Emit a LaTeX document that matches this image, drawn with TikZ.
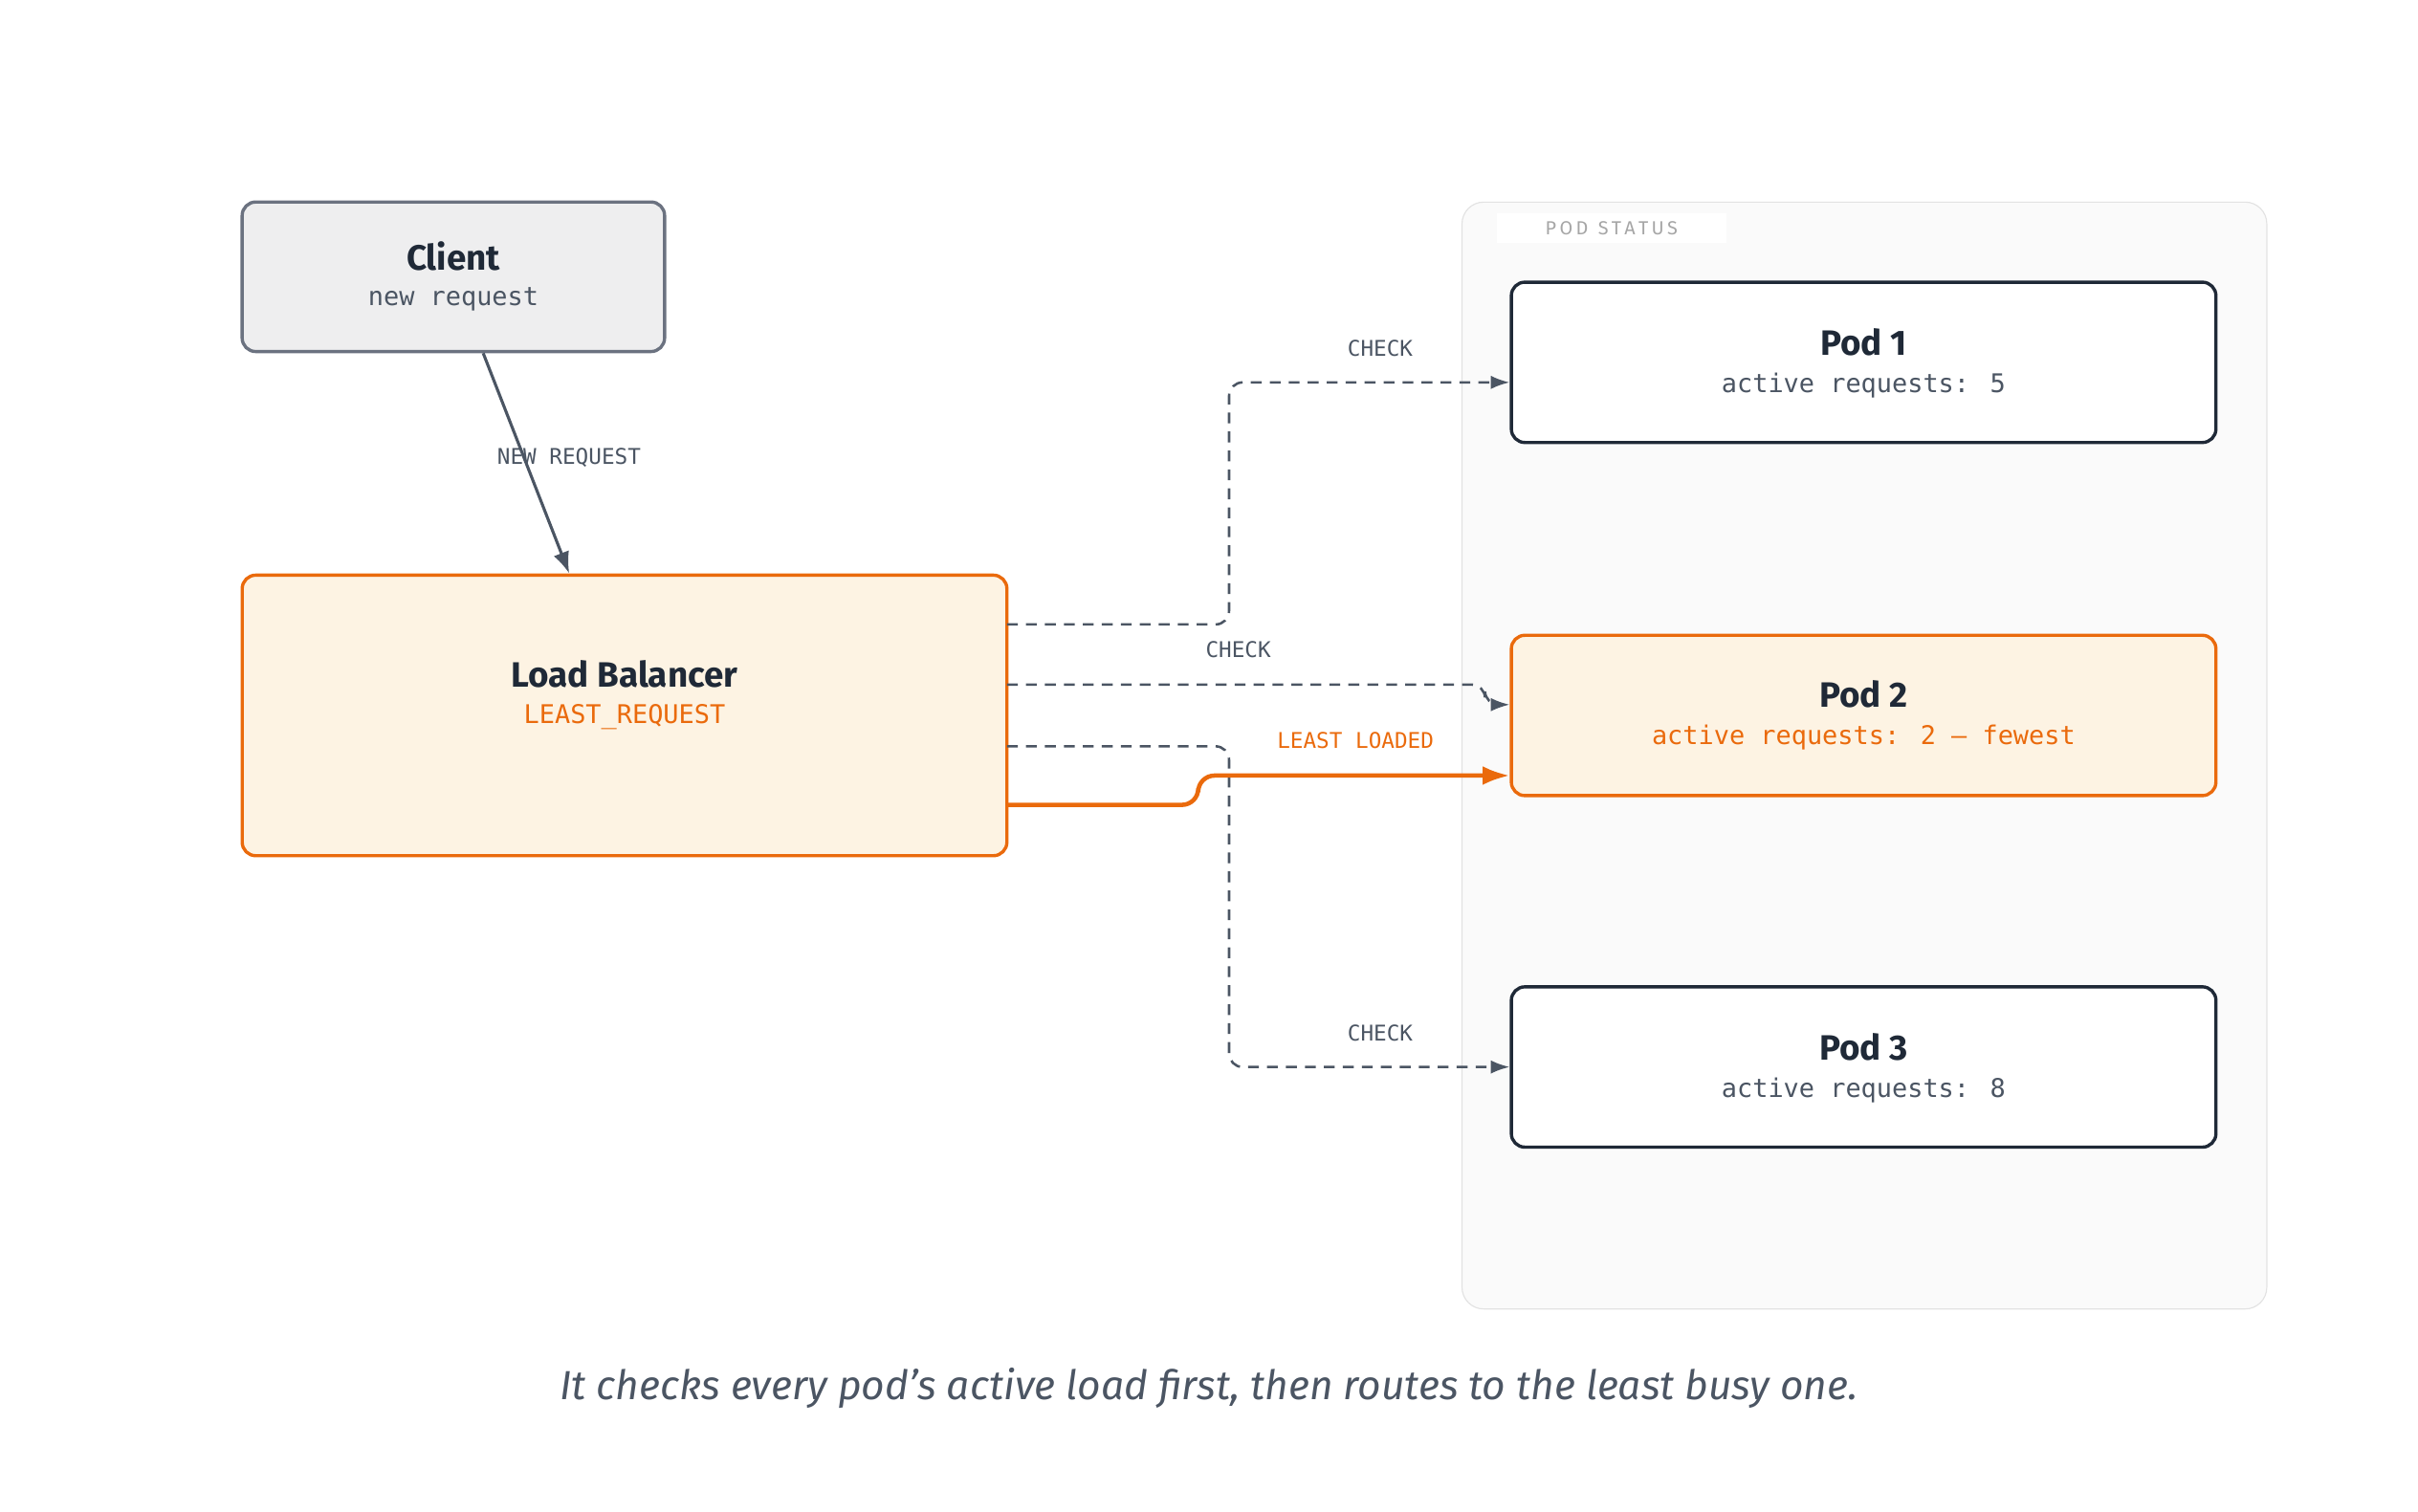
\documentclass[tikz,border=0pt]{standalone}
\usepackage{fontspec}
\setmainfont{Fira Sans}
\newfontfamily\monofont{DejaVu Sans Mono}
\usetikzlibrary{arrows.meta,positioning}
\definecolor{ink}{HTML}{1F2937}
\definecolor{slate}{HTML}{4B5563}
\definecolor{edgegray}{HTML}{6B7280}
\definecolor{accent}{HTML}{EA6A0C}
\definecolor{accentfill}{HTML}{FDF3E3}
\definecolor{clientfill}{HTML}{EEEEEF}
\definecolor{panelfill}{HTML}{FAFAFA}
\definecolor{panelline}{HTML}{E2E2E2}
\tikzset{
  box/.style={draw=ink,line width=1.2pt,rounded corners=5pt,fill=white,inner sep=0pt},
  title/.style={font=\fontsize{13}{15}\selectfont\bfseries,text=ink},
  sub/.style={font=\monofont\fontsize{9.5}{11}\selectfont,text=slate},
  lbl/.style={font=\monofont\fontsize{8}{10}\selectfont,text=slate},
  check/.style={draw=slate,line width=0.9pt,dashed,dash pattern=on 4pt off 3pt,rounded corners=5pt,-{Latex[length=7pt,width=5pt]}},
}
\begin{document}
\begin{tikzpicture}[x=0.02cm,y=-0.02cm]
    \useasboundingbox (0,0) rectangle (1568,980);

    % Pod status panel
    \node[draw=panelline,fill=panelfill,rounded corners=8pt,minimum width=10.44cm,minimum height=14.36cm,inner sep=0pt] (panel) at (1209,490) {};
    \node[fill=white,font=\fontsize{7}{9}\selectfont,text=black!35,inner xsep=18pt,inner ysep=3pt] (paneltag) at (1045,148) {P\,O\,D\ \ S\,T\,A\,T\,U\,S};

    % Client and load balancer
    \node[box,draw=edgegray,fill=clientfill,minimum width=5.48cm,minimum height=1.94cm] (client) at (294,179.5) {};
    \node[title] (client-t) at (294,166) {Client};
    \node[sub] (client-s) at (294,194) {new request};

    \node[box,draw=accent,fill=accentfill,minimum width=9.92cm,minimum height=3.64cm] (lb) at (405,464) {};
    \node[title] (lb-t) at (405,437) {Load Balancer};
    \node[sub,text=accent] (lb-s) at (405,465) {LEAST\_REQUEST};

    % Pods
    \foreach \name/\y/\load in {1/235/5,3/692/8}
    {
        \node[box,minimum width=9.14cm,minimum height=2.08cm] (pod-\name) at (1208.5,\y) {};
        \node[title] (pod-\name-t) at (1208.5,\y-13) {Pod \name};
        \node[sub] (pod-\name-s) at (1208.5,\y+15) {active requests: \load};
    }
    \node[box,draw=accent,fill=accentfill,minimum width=9.14cm,minimum height=2.08cm] (pod-2) at (1208.5,464) {};
    \node[title] (pod-2-t) at (1208.5,450) {Pod 2};
    \node[sub,text=accent] (pod-2-s) at (1208.5,478) {active requests: 2 — fewest};

    % Connectors
    \draw[draw=slate,line width=1.1pt,-{Latex[length=8pt,width=6pt]}] (client) -- (lb);
    \node[lbl] (l-new) at (369,297) {NEW REQUEST};

    \coordinate (c1) at (653,405);
    \coordinate (c2) at (653,444);
    \coordinate (c3) at (653,484);
    \coordinate (c4) at (653,522);
    \draw[check] (c1) -- (797,405) -- (797,248) -- (pod-1.west |- 0,248);
    \draw[check] (c2) -- (963,444) -- (963,457) -- (pod-2.west |- 0,457);
    \draw[check] (c3) -- (797,484) -- (797,692) -- (pod-3.west);
    \draw[draw=accent,line width=1.6pt,rounded corners=6pt,-{Latex[length=10pt,width=7pt]}]
        (c4) -- (777,522) -- (777,503) -- (pod-2.west |- 0,503);
    \node[lbl] (l-c1) at (895,226) {CHECK};
    \node[lbl] (l-c2) at (803,421) {CHECK};
    \node[lbl] (l-c3) at (895,670) {CHECK};
    \node[lbl,text=accent] (l-least) at (879,480) {LEAST LOADED};

    % Caption
    \node[font=\fontsize{15}{18}\selectfont\itshape,text=slate] (caption) at (784,900)
        {It checks every pod's active load first, then routes to the least busy one.};
\end{tikzpicture}
\end{document}
